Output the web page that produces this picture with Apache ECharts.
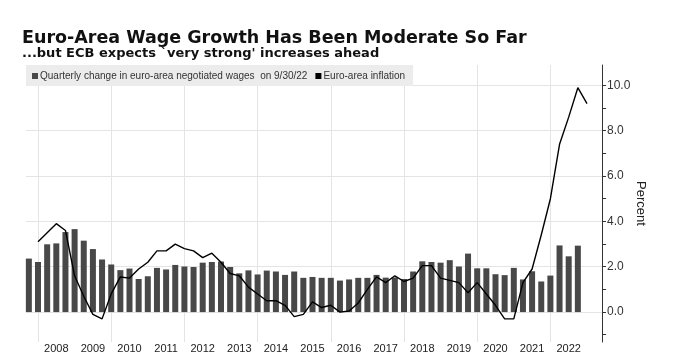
<!DOCTYPE html>
<html>
<head>
<meta charset="utf-8">
<script src="https://cdn.jsdelivr.net/npm/echarts@6/dist/echarts.min.js"></script>
<style>
  html, body { margin: 0; padding: 0; background: #fff; }
  #chart { width: 675px; height: 354px; }
</style>
</head>
<body>
<div id="chart"></div>
<script>
// 季度
const quarters = [
  "2007Q4",
  "2008Q1", "2008Q2", "2008Q3", "2008Q4",
  "2009Q1", "2009Q2", "2009Q3", "2009Q4",
  "2010Q1", "2010Q2", "2010Q3", "2010Q4",
  "2011Q1", "2011Q2", "2011Q3", "2011Q4",
  "2012Q1", "2012Q2", "2012Q3", "2012Q4",
  "2013Q1", "2013Q2", "2013Q3", "2013Q4",
  "2014Q1", "2014Q2", "2014Q3", "2014Q4",
  "2015Q1", "2015Q2", "2015Q3", "2015Q4",
  "2016Q1", "2016Q2", "2016Q3", "2016Q4",
  "2017Q1", "2017Q2", "2017Q3", "2017Q4",
  "2018Q1", "2018Q2", "2018Q3", "2018Q4",
  "2019Q1", "2019Q2", "2019Q3", "2019Q4",
  "2020Q1", "2020Q2", "2020Q3", "2020Q4",
  "2021Q1", "2021Q2", "2021Q3", "2021Q4",
  "2022Q1", "2022Q2", "2022Q3", "2022Q4",
];
// 协议工资季度变化
const wageGrowth = [
  2.36,
  2.21, 2.99, 3.03, 3.53,
  3.66, 3.15, 2.78, 2.32,
  2.10, 1.85, 1.92, 1.46,
  1.58, 1.95, 1.88, 2.08,
  2.01, 1.99, 2.18, 2.21,
  2.23, 1.99, 1.71, 1.84,
  1.66, 1.83, 1.79, 1.64,
  1.79, 1.51, 1.55, 1.51,
  1.51, 1.39, 1.44, 1.51,
  1.51, 1.64, 1.52, 1.53,
  1.46, 1.79, 2.24, 2.21,
  2.18, 2.29, 2.01, 2.58,
  1.93, 1.93, 1.67, 1.63,
  1.95, 1.44, 1.80, 1.35,
  1.61, 2.94, 2.46, 2.93,
];
// 通胀 (季末)
const inflation = [
  3.1,
  3.5, 3.9, 3.6, 1.6,
  0.7, -0.1, -0.3, 0.8,
  1.55, 1.5, 1.9, 2.2,
  2.7, 2.7, 3.0, 2.8,
  2.7, 2.4, 2.6, 2.2,
  1.7, 1.6, 1.1, 0.8,
  0.5, 0.5, 0.3, -0.2,
  -0.1, 0.45, 0.2, 0.3,
  0.0, 0.05, 0.4, 1.0,
  1.55, 1.3, 1.6, 1.35,
  1.5, 2.05, 2.05, 1.5,
  1.4, 1.3, 0.85, 1.3,
  0.8, 0.3, -0.3, -0.3,
  1.3, 1.9, 3.4, 5.0,
  7.4, 8.6, 9.9, 9.2,
];
// 刻度
const yearLabels = [2008, 2009, 2010, 2011, 2012, 2013, 2014, 2015, 2016, 2017, 2018, 2019, 2020, 2021, 2022];
const gridYears = [2008, 2010, 2012, 2014, 2016, 2018, 2020, 2022];
const majorTicks = [0, 2, 4, 6, 8, 10];
const minorTicks = [-1, 1, 3, 5, 7, 9];

function quarterStart(q) {
  const [y, n] = q.split("Q");
  return +y + (n - 1) / 4;
}
function quarterEnd(q) {
  return quarterStart(q) + 0.25;
}

const wageName = "Quarterly change in euro-area negotiated wages  on 9/30/22";
const inflName = "Euro-area inflation";

const myChart = echarts.init(document.querySelector("#chart"));
const option = {
  animation: false,
  backgroundColor: "#fff",
  title: {
    text: "Euro-Area Wage Growth Has Been Moderate So Far",
    subtext: "...but ECB expects `very strong' increases ahead",
    left: 22,
    top: 29,
    padding: 0,
    itemGap: 0,
    textStyle: { fontFamily: "DejaVu Sans", fontWeight: "bold", fontSize: 17.5, color: "#111" },
    subtextStyle: { fontFamily: "DejaVu Sans", fontWeight: "bold", fontSize: 13, color: "#111" },
  },
  legend: {
    left: 26,
    top: 65,
    padding: [6, 8, 5, 6],
    backgroundColor: "#ececec",
    itemWidth: 6,
    itemHeight: 6,
    itemGap: 8,
    icon: "rect",
    textStyle: { fontFamily: "Liberation Sans", fontSize: 10, color: "#333", padding: [0, 0, 0, -3] },
    data: [wageName, inflName],
  },
  grid: { left: 26, right: 73, top: 65, bottom: 11 },
  xAxis: {
    type: "value",
    min: 2007.672,
    max: 2023.41,
    axisLine: { show: false },
    axisTick: { show: false, customValues: gridYears },
    splitLine: { show: true, lineStyle: { color: "#e4e4e4" } },
    axisLabel: {
      customValues: yearLabels.map((y) => y + 0.5),
      formatter: (v) => Math.floor(v),
      fontFamily: "Liberation Sans",
      fontSize: 11,
      color: "#222",
      margin: 1,
    },
  },
  yAxis: [
    {
      type: "value",
      position: "right",
      min: -1.32,
      max: 10.9,
      axisLine: { show: true, lineStyle: { color: "#333" } },
      axisTick: {
        show: true,
        length: 4,
        customValues: majorTicks.concat(minorTicks).sort((a, b) => a - b),
        lineStyle: { color: "#333" },
      },
      axisLabel: {
        customValues: majorTicks,
        formatter: (v) => v.toFixed(1),
        fontFamily: "Liberation Sans",
        fontSize: 12,
        color: "#333",
        margin: 5,
      },
      splitLine: { show: false },
      name: "Percent",
      nameLocation: "middle",
      nameRotate: -90,
      nameGap: 32,
      nameMoveOverlap: false,
      nameTextStyle: { fontFamily: "Liberation Sans", fontSize: 13, color: "#222" },
    },
    {
      type: "value",
      position: "left",
      min: -1.32,
      max: 10.9,
      axisLine: { show: false },
      axisTick: { show: false, customValues: majorTicks },
      axisLabel: { show: false },
      splitLine: { show: true, lineStyle: { color: "#e4e4e4" } },
    },
  ],
  series: [
    {
      name: wageName,
      type: "bar",
      barWidth: 6,
      itemStyle: { color: "#484848" },
      data: quarters.map((q, i) => [quarterStart(q), wageGrowth[i]]),
    },
    {
      name: inflName,
      type: "line",
      showSymbol: false,
      z: 3,
      itemStyle: { color: "#000" },
      lineStyle: { color: "#000", width: 1.4 },
      data: quarters.map((q, i) => [quarterEnd(q), inflation[i]]),
    },
  ],
};
myChart.setOption(option);
</script>
</body>
</html>
